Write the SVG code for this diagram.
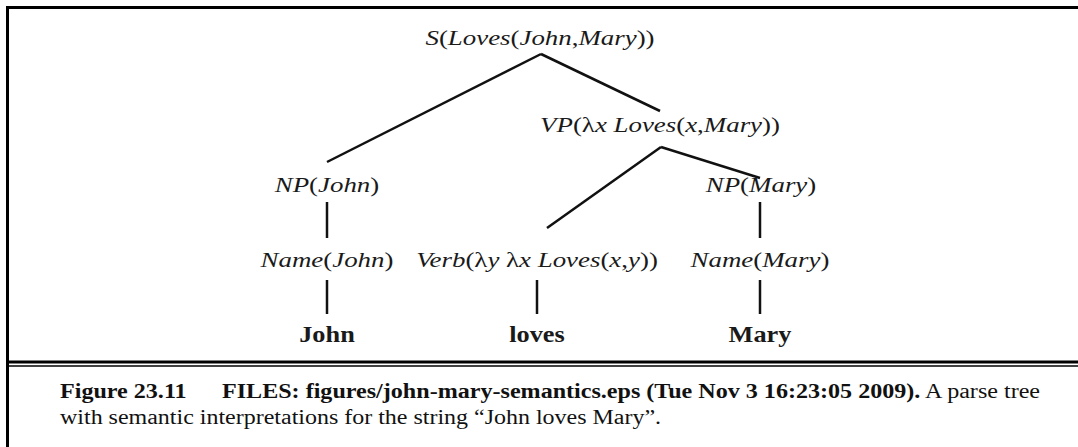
<svg xmlns="http://www.w3.org/2000/svg" width="1078" height="447" viewBox="0 0 1078 447">
<style>
.lbl{font-family:"Liberation Serif","Times New Roman",serif;font-size:21px;font-style:italic;fill:#1a1a1a}
.up{font-style:normal}
.leaf{font-family:"Liberation Serif","Times New Roman",serif;font-size:22.5px;font-weight:bold;fill:#1a1a1a}
.cap{font-family:"Liberation Serif","Times New Roman",serif;font-size:20.5px;fill:#111}
.b{font-weight:bold}
.edge{stroke:#111;stroke-width:2.5;fill:none}
.frame{stroke:#000;fill:none}
</style>
<rect width="1078" height="447" fill="#fff"/>
<g id="frame">
<line class="frame" x1="7.5" y1="6" x2="7.5" y2="447" stroke-width="3"/>
<line class="frame" x1="6" y1="7.5" x2="1078" y2="7.5" stroke-width="3"/>
<line class="frame" x1="6" y1="362" x2="1078" y2="362" stroke-width="3"/>
<line class="frame" x1="6" y1="366" x2="1078" y2="366" stroke-width="1.5"/>
</g>
<g id="connectors">
<line class="edge" x1="541" y1="54" x2="327" y2="162"/>
<line class="edge" x1="541" y1="54" x2="660" y2="111"/>
<line class="edge" x1="661" y1="147" x2="547" y2="228"/>
<line class="edge" x1="661" y1="147" x2="760" y2="178"/>
<line class="edge" x1="327" y1="202" x2="327" y2="238"/>
<line class="edge" x1="760" y1="202" x2="760" y2="238"/>
<line class="edge" x1="327" y1="280" x2="327" y2="314"/>
<line class="edge" x1="537" y1="280" x2="537" y2="314"/>
<line class="edge" x1="760" y1="280" x2="760" y2="314"/>
</g>
<g id="node-s"><text class="lbl" text-anchor="middle" transform="translate(540,45) scale(1.28,1)">S<tspan class="up">(</tspan>Loves<tspan class="up">(</tspan>John<tspan class="up">,</tspan>Mary<tspan class="up">))</tspan></text></g>
<g id="node-vp"><text class="lbl" text-anchor="middle" transform="translate(660,132) scale(1.28,1)">VP<tspan class="up">(λ</tspan>x Loves<tspan class="up">(</tspan>x<tspan class="up">,</tspan>Mary<tspan class="up">))</tspan></text></g>
<g id="node-np-john"><text class="lbl" text-anchor="middle" transform="translate(327,192) scale(1.28,1)">NP<tspan class="up">(</tspan>John<tspan class="up">)</tspan></text></g>
<g id="node-np-mary"><text class="lbl" text-anchor="middle" transform="translate(761,192) scale(1.28,1)">NP<tspan class="up">(</tspan>Mary<tspan class="up">)</tspan></text></g>
<g id="node-name-john"><text class="lbl" text-anchor="middle" transform="translate(327,267) scale(1.28,1)">Name<tspan class="up">(</tspan>John<tspan class="up">)</tspan></text></g>
<g id="node-verb"><text class="lbl" text-anchor="middle" transform="translate(537,267) scale(1.28,1)">Verb<tspan class="up">(λ</tspan>y <tspan class="up">λ</tspan>x Loves<tspan class="up">(</tspan>x<tspan class="up">,</tspan>y<tspan class="up">))</tspan></text></g>
<g id="node-name-mary"><text class="lbl" text-anchor="middle" transform="translate(760,267) scale(1.28,1)">Name<tspan class="up">(</tspan>Mary<tspan class="up">)</tspan></text></g>
<g id="leaf-john"><text class="leaf" text-anchor="middle" transform="translate(327,342) scale(1.17,1)">John</text></g>
<g id="leaf-loves"><text class="leaf" text-anchor="middle" transform="translate(537,342) scale(1.17,1)">loves</text></g>
<g id="leaf-mary"><text class="leaf" text-anchor="middle" transform="translate(760,342) scale(1.17,1)">Mary</text></g>
<g id="caption">
<text class="cap" transform="translate(60,398) scale(1.175,1)"><tspan class="b">Figure 23.11</tspan><tspan class="b" x="137.9">FILES: figures/john-mary-semantics.eps (Tue Nov 3 16:23:05 2009).</tspan> A parse tree</text>
<text class="cap" transform="translate(60,424) scale(1.17,1)">with semantic interpretations for the string “John loves Mary”.</text>
</g>
</svg>
